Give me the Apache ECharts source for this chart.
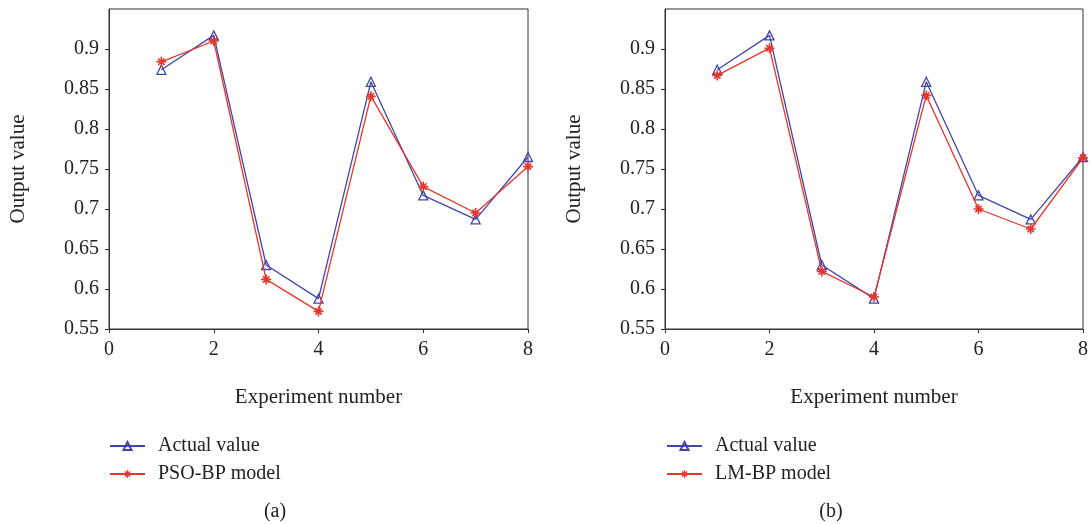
<!DOCTYPE html>
<html>
<head>
<meta charset="utf-8">
<script src="https://cdn.jsdelivr.net/npm/echarts@6/dist/echarts.min.js"></script>
<style>
html, body { margin: 0; padding: 0; background: #fff; }
#box { width: 1091px; height: 524px; }
</style>
</head>
<body>
<div id="box"></div>
<script>
var mychart = echarts.init(document.getElementById("box"));

var expNo = [1, 2, 3, 4, 5, 6, 7, 8];
var actualVal = [0.874, 0.917, 0.630, 0.588, 0.859, 0.717, 0.687, 0.765];
var psoVal = [0.884, 0.910, 0.612, 0.572, 0.841, 0.728, 0.695, 0.753];
var lmVal = [0.867, 0.901, 0.622, 0.590, 0.842, 0.700, 0.675, 0.764];
var yTicks = [0.55, 0.6, 0.65, 0.7, 0.75, 0.8, 0.85, 0.9];

var blue = '#4046a8';
var red = '#e8352b';
var fnt = 'Liberation Serif';
var starPath = 'path://M-0.8,-5 L0.8,-5 L0.8,5 L-0.8,5 Z M-5,-0.8 L5,-0.8 L5,0.8 L-5,0.8 Z M-2.61,-3.75 L3.75,2.61 L2.61,3.75 L-3.75,-2.61 Z M2.61,-3.75 L3.75,-2.61 L-2.61,3.75 L-3.75,2.61 Z';

function pairs(v) {
    return expNo.map(function (x, i) { return [x, v[i]]; });
}

function xAx(idx) {
    return {
        type: 'value',
        gridIndex: idx,
        min: 0,
        max: 8,
        interval: 2,
        name: 'Experiment number',
        nameLocation: 'middle',
        nameGap: 58,
        nameTextStyle: { fontFamily: fnt, fontSize: 21, color: '#222' },
        axisLine: { lineStyle: { color: '#333' } },
        axisTick: { length: 4, lineStyle: { color: '#333' } },
        axisLabel: { margin: 11, fontFamily: fnt, fontSize: 20, color: '#222' },
        splitLine: { show: false }
    };
}

function yAx(idx) {
    return {
        type: 'value',
        gridIndex: idx,
        min: 0.55,
        max: 0.95,
        interval: 0.05,
        name: 'Output value',
        nameLocation: 'middle',
        nameGap: 80,
        nameTextStyle: { fontFamily: fnt, fontSize: 21, color: '#222' },
        axisLine: { lineStyle: { color: '#333' } },
        axisTick: { length: 4, customValues: yTicks, lineStyle: { color: '#333' } },
        axisLabel: {
            margin: 10,
            fontFamily: fnt,
            fontSize: 20,
            color: '#222',
            customValues: yTicks,
            formatter: function (v) {
                return String(Math.round(v * 100) / 100);
            }
        },
        splitLine: { show: false }
    };
}

function actualSeries(idx) {
    return {
        name: 'Actual value',
        type: 'line',
        xAxisIndex: idx,
        yAxisIndex: idx,
        symbol: 'triangle',
        symbolSize: 9,
        z: 3,
        lineStyle: { color: blue, width: 1.3 },
        itemStyle: { color: 'rgba(255,255,255,0)', borderColor: blue, borderWidth: 1.3 },
        data: pairs(actualVal)
    };
}

function modelSeries(idx, name, vals) {
    return {
        name: name,
        type: 'line',
        xAxisIndex: idx,
        yAxisIndex: idx,
        symbol: starPath,
        symbolSize: 10,
        z: 4,
        lineStyle: { color: red, width: 1.3 },
        itemStyle: { color: red },
        data: pairs(vals)
    };
}

function legendAt(left, names) {
    return {
        orient: 'vertical',
        left: left,
        top: 436,
        padding: 0,
        itemWidth: 35,
        itemHeight: 10,
        itemGap: 8,
        data: names,
        textStyle: { fontFamily: fnt, fontSize: 20, color: '#222', padding: [0, 0, 0, 8] }
    };
}

var option = {
    animation: false,
    title: [{
        text: '(a)', left: 270, top: 497, textAlign: 'center',
        textStyle: { fontFamily: fnt, fontSize: 20, fontWeight: 'normal', color: '#222' }
    }, {
        text: '(b)', left: 826, top: 497, textAlign: 'center',
        textStyle: { fontFamily: fnt, fontSize: 20, fontWeight: 'normal', color: '#222' }
    }],
    grid: [
        { left: 109, top: 9, width: 419, height: 320, show: true, borderColor: '#333', borderWidth: 1 },
        { left: 665, top: 9, width: 419, height: 320, show: true, borderColor: '#333', borderWidth: 1 }
    ],
    legend: [
        legendAt(109, ['Actual value', 'PSO-BP model']),
        legendAt(666, ['Actual value', 'LM-BP model'])
    ],
    xAxis: [xAx(0), xAx(1)],
    yAxis: [yAx(0), yAx(1)],
    series: [
        actualSeries(0),
        modelSeries(0, 'PSO-BP model', psoVal),
        actualSeries(1),
        modelSeries(1, 'LM-BP model', lmVal)
    ]
};

mychart.setOption(option);
</script>
</body>
</html>
